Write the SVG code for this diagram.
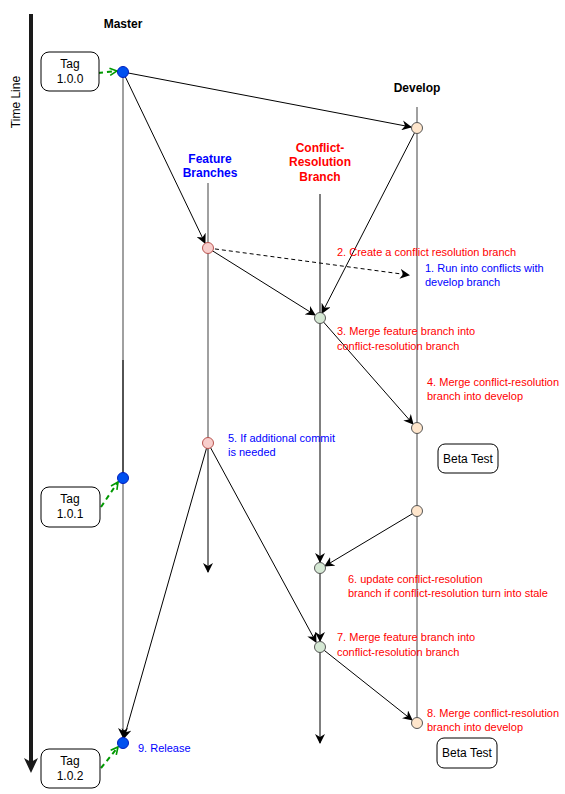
<svg xmlns="http://www.w3.org/2000/svg" width="565" height="794" viewBox="0 0 565 794">
<defs>
<marker id="ah" viewBox="0 0 10 10" refX="9" refY="5" markerWidth="10" markerHeight="10" markerUnits="userSpaceOnUse" orient="auto"><path d="M0,0 L10,5 L0,10 L3,5 Z" fill="#000"/></marker>
<marker id="gh" viewBox="0 0 10 10" refX="9" refY="5" markerWidth="9" markerHeight="9" markerUnits="userSpaceOnUse" orient="auto"><path d="M1,1 L9,5 L1,9" fill="none" stroke="#009900" stroke-width="1.8"/></marker>
</defs>
<style>
text{font-family:"Liberation Sans",Arial,sans-serif;}
.hd{font-size:12px;font-weight:bold;text-anchor:middle;}
.lb{font-size:11px;}
.red{fill:#ff0000;}
.blue{fill:#0000ff;}
.box{fill:#fff;stroke:#000;stroke-width:1;}
.bt{font-size:12px;text-anchor:middle;}
.e{stroke:#000;stroke-width:1;fill:none;}
.g{stroke:#808080;stroke-width:1.5;fill:none;}
.tg{stroke:#009900;stroke-width:2;stroke-dasharray:5 4;fill:none;}
.mn{fill:#0050ef;stroke:#001dbc;}
.dn{fill:#ffe6cc;stroke:#555;}
.fn{fill:#f8cecc;stroke:#b85450;}
.cn{fill:#d5e8d4;stroke:#555;}
</style>
<g id="timeline">
<line x1="31" y1="14" x2="31" y2="762" stroke="#1a1a1a" stroke-width="4"/>
<path d="M24,758 L31,773 L38,758 L31,762 Z" fill="#1a1a1a"/>
<text x="20" y="102" transform="rotate(-90 20 102)" font-size="12" text-anchor="middle">Time Line</text>
</g>
<g id="headers">
<text class="hd" x="123" y="28">Master</text>
<text class="hd" x="417" y="92">Develop</text>
<text class="hd blue" x="210" y="163">Feature</text>
<text class="hd blue" x="210" y="177">Branches</text>
<text class="hd red" x="320" y="152">Conflict-</text>
<text class="hd red" x="320" y="166">Resolution</text>
<text class="hd red" x="320" y="181">Branch</text>
</g>
<g id="connectors">
<line class="g" x1="123" y1="72" x2="123" y2="360"/>
<line x1="123" y1="360" x2="123" y2="478" stroke="#1a1a1a" stroke-width="1.5"/>
<line class="g" x1="123" y1="478" x2="123" y2="737" marker-end="url(#ah)"/>
<line class="g" x1="417" y1="107" x2="417" y2="723"/>
<line class="g" x1="208" y1="183" x2="208" y2="443"/>
<line class="e" x1="208" y1="443" x2="208" y2="572" marker-end="url(#ah)"/>
<line class="e" x1="320" y1="194" x2="320" y2="562" marker-end="url(#ah)"/>
<line class="e" x1="320" y1="568" x2="320" y2="641" marker-end="url(#ah)"/>
<line class="e" x1="320" y1="647" x2="320" y2="743" marker-end="url(#ah)"/>
<line class="e" x1="123" y1="72" x2="411" y2="127" marker-end="url(#ah)"/>
<line class="e" x1="123" y1="72" x2="205" y2="243" marker-end="url(#ah)"/>
<line class="e" x1="417" y1="128" x2="322" y2="313" marker-end="url(#ah)"/>
<line class="e" x1="208" y1="248" x2="315" y2="315" marker-end="url(#ah)"/>
<line class="e" x1="208" y1="248" x2="409" y2="275" stroke-dasharray="4 3" marker-end="url(#ah)"/>
<line class="e" x1="320" y1="318" x2="413" y2="424" marker-end="url(#ah)"/>
<line class="e" x1="208" y1="443" x2="124" y2="738" marker-end="url(#ah)"/>
<line class="e" x1="208" y1="443" x2="316" y2="642" marker-end="url(#ah)"/>
<line class="e" x1="417" y1="511" x2="325" y2="566" marker-end="url(#ah)"/>
<line class="e" x1="320" y1="647" x2="412" y2="720" marker-end="url(#ah)"/>
<line class="tg" x1="98" y1="73" x2="117" y2="71" marker-end="url(#gh)"/>
<line class="tg" x1="101" y1="507" x2="118" y2="482" marker-end="url(#gh)"/>
<line class="tg" x1="101" y1="768" x2="118" y2="747" marker-end="url(#gh)"/>
</g>
<g id="tag100"><rect class="box" x="41" y="52" width="58" height="39" rx="8"/><text class="bt" x="70" y="68">Tag</text><text class="bt" x="70" y="83">1.0.0</text></g>
<g id="tag101"><rect class="box" x="41" y="487" width="59" height="40" rx="8"/><text class="bt" x="70" y="503">Tag</text><text class="bt" x="70" y="518">1.0.1</text></g>
<g id="tag102"><rect class="box" x="41" y="749" width="59" height="39" rx="8"/><text class="bt" x="70" y="765">Tag</text><text class="bt" x="70" y="780">1.0.2</text></g>
<g id="beta1"><rect class="box" x="438" y="444" width="60" height="29" rx="7"/><text class="bt" x="468" y="463">Beta Test</text></g>
<g id="beta2"><rect class="box" x="437" y="738" width="60" height="30" rx="7"/><text class="bt" x="467" y="757">Beta Test</text></g>
<g id="m1"><circle class="mn" cx="123" cy="72" r="5.5"/></g>
<g id="m2"><circle class="mn" cx="123" cy="478" r="5.5"/></g>
<g id="m3"><circle class="mn" cx="123" cy="743" r="5.5"/></g>
<g id="d1"><circle class="dn" cx="417" cy="128" r="5.5"/></g>
<g id="d2"><circle class="dn" cx="417" cy="428" r="5.5"/></g>
<g id="d3"><circle class="dn" cx="417" cy="511" r="5.5"/></g>
<g id="d4"><circle class="dn" cx="417" cy="723" r="5.5"/></g>
<g id="f1"><circle class="fn" cx="208" cy="248" r="5.5"/></g>
<g id="f2"><circle class="fn" cx="208" cy="443" r="5.5"/></g>
<g id="c1"><circle class="cn" cx="320" cy="318" r="5.5"/></g>
<g id="c2"><circle class="cn" cx="320" cy="568" r="5.5"/></g>
<g id="c3"><circle class="cn" cx="320" cy="647" r="5.5"/></g>
<g id="labels">
<text class="lb blue" x="425" y="272">1. Run into conflicts with</text>
<text class="lb blue" x="425" y="286">develop branch</text>
<text class="lb red" x="337" y="256">2. Create a conflict resolution branch</text>
<text class="lb red" x="337" y="335">3. Merge feature branch into</text>
<text class="lb red" x="337" y="350">conflict-resolution branch</text>
<text class="lb red" x="427" y="386">4. Merge conflict-resolution</text>
<text class="lb red" x="427" y="400">branch into develop</text>
<text class="lb blue" x="228" y="442">5. If additional commit</text>
<text class="lb blue" x="228" y="456">is needed</text>
<text class="lb red" x="348" y="583">6. update conflict-resolution</text>
<text class="lb red" x="348" y="597">branch if conflict-resolution turn into stale</text>
<text class="lb red" x="337" y="641">7. Merge feature branch into</text>
<text class="lb red" x="337" y="656">conflict-resolution branch</text>
<text class="lb red" x="427" y="717">8. Merge conflict-resolution</text>
<text class="lb red" x="427" y="731">branch into develop</text>
<text class="lb blue" x="138" y="752">9. Release</text>
</g>
</svg>
